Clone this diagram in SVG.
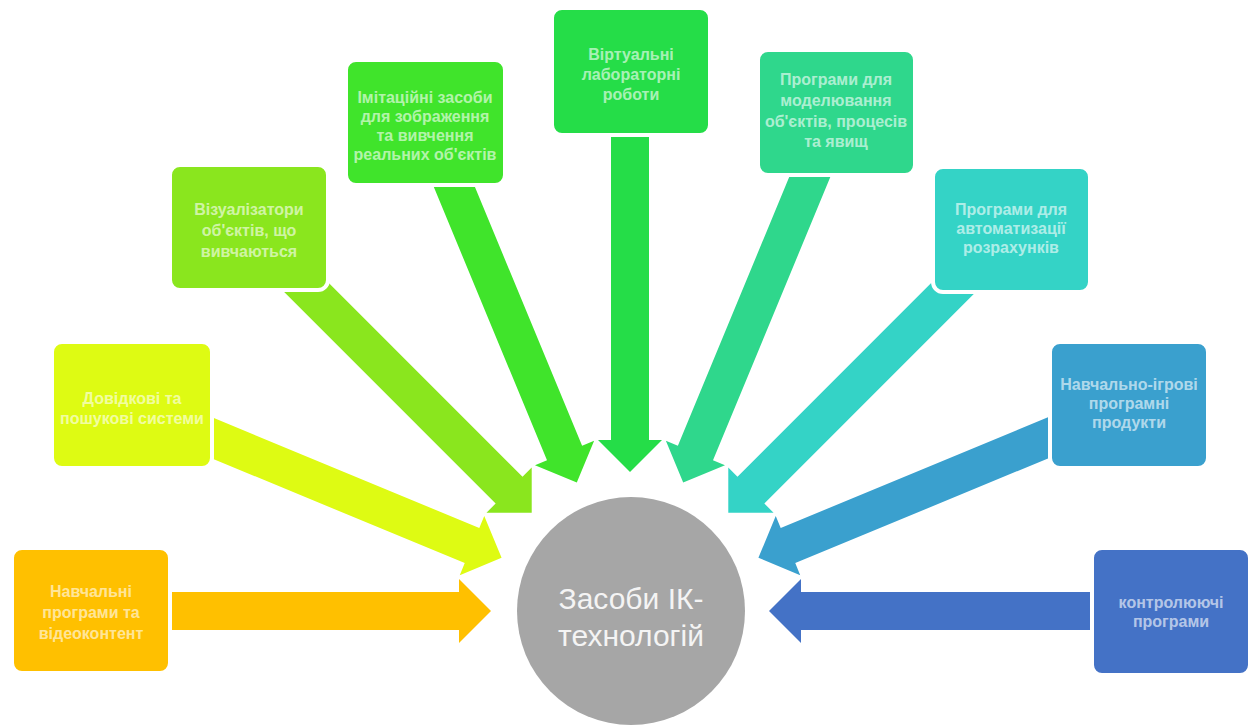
<svg xmlns="http://www.w3.org/2000/svg" width="1257" height="725" viewBox="0 0 1257 725">
<style>
.box{stroke:#ffffff;stroke-width:4}
.lbl{font-family:"Liberation Sans",Arial,sans-serif;font-size:16px;font-weight:bold;fill:#ffffff;fill-opacity:0.62;text-anchor:middle}
.hub{font-family:"Liberation Sans",Arial,sans-serif;font-size:30px;fill:#f4f4f4;text-anchor:middle}
</style>
<rect width="1257" height="725" fill="#ffffff"/>
<g id="connectors">
<path transform="translate(630,611) rotate(0)" fill="#FFC000" d="M-480,-19 L-171,-19 L-171,-32 L-139,0 L-171,32 L-171,19 L-480,19 Z"/>
<path transform="translate(630,611) rotate(22.5)" fill="#DEFB13" d="M-470,-19 L-171,-19 L-171,-32 L-139,0 L-171,32 L-171,19 L-470,19 Z"/>
<path transform="translate(630,611) rotate(45)" fill="#8AE61E" d="M-475,-19 L-171,-19 L-171,-32 L-139,0 L-171,32 L-171,19 L-475,19 Z"/>
<path transform="translate(630,611) rotate(67.5)" fill="#40E42B" d="M-480,-19 L-171,-19 L-171,-32 L-139,0 L-171,32 L-171,19 L-480,19 Z"/>
<path transform="translate(630,611) rotate(90)" fill="#25DD48" d="M-495,-19 L-171,-19 L-171,-32 L-139,0 L-171,32 L-171,19 L-495,19 Z"/>
<path transform="translate(630,611) rotate(112.5)" fill="#2FD78C" d="M-490,-19 L-171,-19 L-171,-32 L-139,0 L-171,32 L-171,19 L-490,19 Z"/>
<path transform="translate(630,611) rotate(135)" fill="#34D3C6" d="M-470,-19 L-171,-19 L-171,-32 L-139,0 L-171,32 L-171,19 L-470,19 Z"/>
<path transform="translate(630,611) rotate(157.5)" fill="#3AA0CE" d="M-472,-19 L-171,-19 L-171,-32 L-139,0 L-171,32 L-171,19 L-472,19 Z"/>
<path transform="translate(630,611) rotate(180)" fill="#4472C6" d="M-480,-19 L-171,-19 L-171,-32 L-139,0 L-171,32 L-171,19 L-480,19 Z"/>
</g>
<g id="node1">
<rect class="box" x="12" y="548" width="158" height="125" rx="10" fill="#FFC000"/>
<text class="lbl"><tspan x="91" y="597">Навчальні</tspan><tspan x="91" y="618">програми та</tspan><tspan x="91" y="639">відеоконтент</tspan></text>
</g>
<g id="node2">
<rect class="box" x="52" y="342" width="160" height="126" rx="10" fill="#DEFB13"/>
<text class="lbl"><tspan x="132" y="404">Довідкові та</tspan><tspan x="132" y="424">пошукові системи</tspan></text>
</g>
<g id="node3">
<rect class="box" x="170" y="165" width="158" height="125" rx="10" fill="#8AE61E"/>
<text class="lbl"><tspan x="249" y="215">Візуалізатори</tspan><tspan x="249" y="236">об'єктів, що</tspan><tspan x="249" y="257">вивчаються</tspan></text>
</g>
<g id="node4">
<rect class="box" x="346" y="60" width="159" height="125" rx="10" fill="#40E42B"/>
<text class="lbl"><tspan x="425" y="103">Імітаційні засоби</tspan><tspan x="425" y="122">для зображення</tspan><tspan x="425" y="141">та вивчення</tspan><tspan x="425" y="160">реальних об'єктів</tspan></text>
</g>
<g id="node5">
<rect class="box" x="552" y="8" width="158" height="127" rx="10" fill="#25DD48"/>
<text class="lbl"><tspan x="631" y="60">Віртуальні</tspan><tspan x="631" y="80">лабораторні</tspan><tspan x="631" y="100">роботи</tspan></text>
</g>
<g id="node6">
<rect class="box" x="758" y="50" width="157" height="125" rx="10" fill="#2FD78C"/>
<text class="lbl"><tspan x="836" y="85">Програми для</tspan><tspan x="836" y="106">моделювання</tspan><tspan x="836" y="127">об'єктів, процесів</tspan><tspan x="836" y="147">та явищ</tspan></text>
</g>
<g id="node7">
<rect class="box" x="933" y="167" width="157" height="125" rx="10" fill="#34D3C6"/>
<text class="lbl"><tspan x="1011" y="215">Програми для</tspan><tspan x="1011" y="234">автоматизації</tspan><tspan x="1011" y="253">розрахунків</tspan></text>
</g>
<g id="node8">
<rect class="box" x="1050" y="342" width="158" height="126" rx="10" fill="#3AA0CE"/>
<text class="lbl"><tspan x="1129" y="390">Навчально-ігрові</tspan><tspan x="1129" y="409">програмні</tspan><tspan x="1129" y="428">продукти</tspan></text>
</g>
<g id="node9">
<rect class="box" x="1092" y="548" width="158" height="127" rx="10" fill="#4472C6"/>
<text class="lbl"><tspan x="1171" y="608">контролюючі</tspan><tspan x="1171" y="627">програми</tspan></text>
</g>
<g id="hub">
<circle cx="631" cy="611" r="114" fill="#A6A6A6"/>
<text class="hub"><tspan x="631" y="609">Засоби ІК-</tspan><tspan x="631" y="646">технологій</tspan></text>
</g>
</svg>
